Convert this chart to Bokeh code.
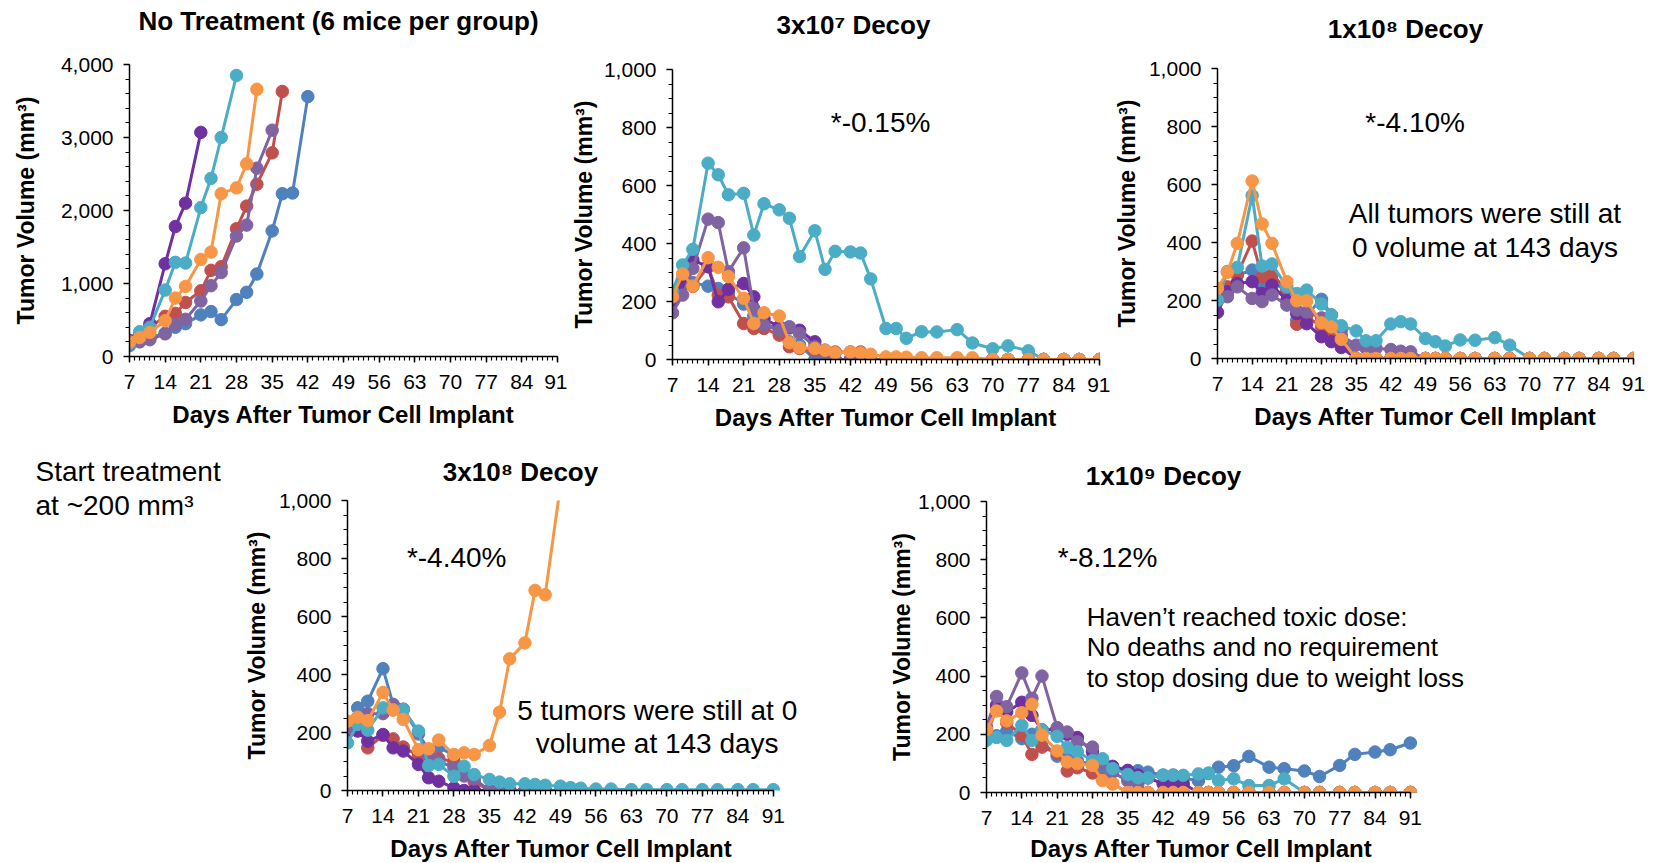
from bokeh.plotting import figure
from bokeh.layouts import row, column
from bokeh.models import FixedTicker, NumeralTickFormatter, Label, Range1d
from bokeh.embed import file_html
from bokeh.resources import INLINE

# ---------------- data ----------------
DAYS = [7, 9, 11, 14, 16, 18, 21, 23, 25, 28, 30, 32, 35, 37, 39, 42, 44, 46,
        49, 51, 53, 56, 59, 63, 66, 70, 73, 77, 80, 84, 87, 91]
X_TICKS = [7, 14, 21, 28, 35, 42, 49, 56, 63, 70, 77, 84, 91]

MOUSE_NAMES = ["blue", "red", "dark_purple", "light_purple", "cyan", "orange"]
MOUSE_COLORS = ["#4F81BD", "#C0504D", "#7030A0", "#8064A2", "#4BACC6", "#F79646"]

# No treatment
nt_blue = [150, 200, 260, 320, 400, 450, 570, 615, 505, 780, 880, 1130, 1720, 2230, 2240, 3560]
nt_red = [210, 260, 400, 550, 590, 740, 900, 1180, 1230, 1750, 2060, 2360, 2790, 3630]
nt_dpurple = [220, 280, 450, 1270, 1780, 2100, 3070]
nt_lpurple = [190, 210, 230, 310, 440, 510, 760, 970, 1150, 1650, 1800, 2580, 3100]
nt_cyan = [180, 340, 400, 910, 1290, 1280, 2040, 2440, 3000, 3850]
nt_orange = [200, 260, 330, 490, 800, 960, 1330, 1430, 2230, 2310, 2640, 3660]

# 3x10^7 decoy
d37_blue = [215, 274, 265, 253, 245, 228, 191, 150, 115, 113, 61, 50, 0, 0, 0, 0, 0, 0,
            0, 0, 0, 0, 0, 0, 0, 0, 0, 0, 0, 0, 0, 0]
d37_red = [216, 255, 252, 320, 222, 216, 124, 107, 107, 84, 44, 38, 32, 26, 26, 26, 26, 0,
           0, 0, 0, 0, 0, 0, 0, 0, 0, 0, 0, 0, 0, 0]
d37_dpurple = [199, 262, 343, 320, 199, 242, 262, 216, 140, 113, 109, 101, 61, 32, 0, 0, 0, 0,
               0, 0, 0, 0, 0, 0, 0, 0, 0, 0, 0, 0, 0, 0]
d37_lpurple = [161, 222, 314, 484, 472, 303, 385, 175, 119, 101, 113, 90, 44, 26, 0, 0, 0, 0,
               0, 0, 0, 0, 0, 0, 0, 0, 0, 0, 0, 0, 0, 0]
d37_cyan = [237, 326, 380, 677, 637, 568, 573, 429, 537, 516, 487, 355, 444, 311, 373, 371, 367, 278,
            107, 107, 73, 96, 95, 103, 57, 37, 47, 30, 0, 0, 0, 0]
d37_orange = [216, 295, 253, 351, 318, 286, 211, 124, 161, 150, 58, 41, 38, 32, 23, 26, 23, 18,
              9, 9, 8, 6, 6, 6, 6, 0, 0, 0, 0, 0, 0, 0]

# 1x10^8 decoy
d18_blue = [220, 240, 287, 305, 247, 268, 230, 132, 150, 204, 150, 98, 0, 0, 0, 0, 0, 0,
            0, 0, 0, 0, 0, 0, 0, 0, 0, 0, 0, 0, 0, 0]
d18_red = [224, 247, 290, 405, 282, 290, 236, 118, 145, 110, 80, 50, 0, 0, 0, 0, 0, 0,
           0, 0, 0, 0, 0, 0, 0, 0, 0, 0, 0, 0, 0, 0]
d18_dpurple = [159, 230, 259, 265, 224, 253, 200, 155, 120, 75, 58, 38, 0, 0, 0, 0, 0, 0,
               0, 0, 0, 0, 0, 0, 0, 0, 0, 0, 0, 0, 0, 0]
d18_lpurple = [201, 213, 247, 207, 196, 219, 184, 167, 160, 140, 110, 80, 46, 35, 35, 31, 25, 23,
               0, 0, 0, 0, 0, 0, 0, 0, 0, 0, 0, 0, 0, 0]
d18_cyan = [201, 300, 314, 562, 319, 326, 247, 224, 236, 188, 150, 113, 95, 61, 61, 119, 127, 119,
            69, 58, 43, 64, 63, 72, 46, 0, 0, 0, 0, 0, 0, 0]
d18_orange = [242, 297, 397, 612, 464, 397, 265, 199, 199, 123, 109, 66, 0, 0, 0, 0, 0, 0,
              0, 0, 0, 0, 0, 0, 0, 0, 0, 0, 0, 0, 0, 0]

# 3x10^8 decoy
d38_blue = [230, 285, 308, 420, 297, 280, 195, 140, 150, 120, 60, 0, 0, 0, 0, 0, 0, 0, 0, 0]
d38_red = [200, 230, 147, 190, 178, 150, 120, 135, 110, 100, 60, 30, 0, 0, 0, 0, 0, 0, 0, 0]
d38_dpurple = [205, 205, 170, 193, 147, 136, 90, 44, 32, 9, 0, 0, 0, 0, 0, 0, 0, 0, 0, 0]
d38_lpurple = [215, 250, 265, 265, 295, 280, 200, 120, 100, 80, 50, 40, 0, 0, 0, 0, 0, 0, 0, 0]
d38_cyan = [164, 228, 208, 285, 279, 279, 205, 86, 90, 49, 84, 55, 38, 29, 23, 23, 21, 18,
            15, 10, 8, 5, 5, 3, 3, 3, 3, 3, 3, 3, 3, 3]
d38_orange = [239, 253, 241, 338, 277, 245, 141, 144, 174, 124, 130, 124, 155, 270, 454, 509, 690, 675, 1050]

# 1x10^9 decoy
d19_blue = [200, 195, 210, 185, 200, 175, 125, 115, 110, 95, 85, 85, 75, 75, 70, 60, 60, 50,
            40, 65, 87, 92, 124, 87, 82, 74, 55, 93, 131, 139, 147, 170]
d19_red = [197, 290, 240, 197, 131, 156, 135, 74, 85, 67, 45, 30, 0, 0, 0, 0, 0, 0,
           0, 0, 0, 0, 0, 0, 0, 0, 0, 0, 0, 0, 0, 0]
d19_dpurple = [220, 300, 277, 310, 265, 215, 217, 200, 189, 140, 110, 90, 76, 60, 50, 30, 30, 30,
               0, 0, 0, 0, 0, 0, 0, 0, 0, 0, 0, 0, 0, 0]
d19_lpurple = [225, 330, 295, 411, 324, 400, 223, 208, 174, 156, 100, 70, 40, 30, 0, 0, 0, 0,
               0, 0, 0, 0, 0, 0, 0, 0, 0, 0, 0, 0, 0, 0]
d19_cyan = [179, 189, 179, 231, 179, 215, 193, 155, 140, 110, 116, 82, 62, 51, 51, 59, 59, 59,
            64, 67, 41, 47, 24, 24, 47, 0, 0, 0, 0, 0, 0, 0]
d19_orange = [216, 280, 246, 274, 303, 197, 143, 105, 99, 93, 41, 30, 0, 0, 0, 0, 0, 0,
              0, 0, 0, 0, 0, 0, 0, 0, 0, 0, 0, 0, 0, 0]

TITLES = ["No Treatment (6 mice per group)", "3x10\u2077 Decoy", "1x10\u2078 Decoy",
          "3x10\u2078 Decoy", "1x10\u2079 Decoy"]
X_LABEL = "Days After Tumor Cell Implant"
Y_LABEL = "Tumor Volume (mm\u00b3)"

FONT = "Liberation Sans"

Y1K = [0, 200, 400, 600, 800, 1000]
Y1K_MINOR = list(range(0, 1001, 50))
Y4K = [0, 1000, 2000, 3000, 4000]
Y4K_MINOR = list(range(0, 4001, 200))


def style_axes(p, yticks, yminor, ymax, label_standoff, show_xlabel):
    p.xgrid.visible = False
    p.ygrid.visible = False
    p.outline_line_color = None
    p.xaxis.ticker = FixedTicker(ticks=X_TICKS, minor_ticks=list(range(7, 92)))
    p.yaxis.ticker = FixedTicker(ticks=yticks, minor_ticks=yminor)
    p.yaxis.formatter = NumeralTickFormatter(format="0,0")
    p.xaxis.bounds = (7, 91)
    p.yaxis.bounds = (0, ymax)
    for ax in (p.xaxis[0], p.yaxis[0]):
        ax.axis_line_color = "black"
        ax.axis_line_width = 1.5
        ax.major_tick_line_color = "black"
        ax.major_tick_line_width = 1.5
        ax.minor_tick_line_color = "black"
        ax.minor_tick_line_width = 1.2
        ax.major_tick_in = 0
        ax.major_tick_out = 6
        ax.minor_tick_in = 0
        ax.minor_tick_out = 4
        ax.major_label_text_font = FONT
        ax.major_label_text_font_size = "21px"
        ax.major_label_text_color = "black"
        ax.axis_label_text_font = FONT
        ax.axis_label_text_font_style = "bold"
        ax.axis_label_text_color = "black"
    p.xaxis.axis_label_text_font_size = "24px"
    p.yaxis.axis_label_text_font_size = "23px"
    if show_xlabel:
        p.xaxis.axis_label = X_LABEL
    p.yaxis.axis_label = Y_LABEL
    p.xaxis.major_label_standoff = 12
    p.xaxis.axis_label_standoff = 9
    p.yaxis.major_label_standoff = 10
    p.yaxis.axis_label_standoff = label_standoff


class Panel:
    """Page geometry of a chart: figure box and plotting frame (page pixels)."""

    def __init__(self, fig_left, fig_top, fig_right, fig_bottom,
                 frame_left, frame_top, frame_bottom, px_per_day, frame_right, ymax):
        self.fl, self.ft, self.fr, self.fb = fig_left, fig_top, fig_right, fig_bottom
        self.xl, self.yt, self.yb = frame_left, frame_top, frame_bottom
        self.xr = frame_right
        self.ppd = px_per_day
        self.ymax = ymax
        self.x_end = 7 + (frame_right - frame_left) / px_per_day

    def data_xy(self, px, py):
        x = 7 + (px - self.xl) / self.ppd
        y = self.ymax - (py - self.yt) / (self.yb - self.yt) * self.ymax
        return x, y


def make_panel(series, g, yticks, yminor, label_standoff, show_xlabel=True):
    p = figure(width=g.fr - g.fl, height=g.fb - g.ft, title=None,
               min_border_left=g.xl - g.fl, min_border_top=g.yt - g.ft,
               min_border_right=g.fr - g.xr, min_border_bottom=g.fb - g.yb,
               x_range=Range1d(7, g.x_end), y_range=Range1d(0, g.ymax),
               output_backend="svg", toolbar_location=None)
    p.frame_align = False
    style_axes(p, yticks, yminor, g.ymax, label_standoff, show_xlabel)
    for vals, color in zip(series, MOUSE_COLORS):
        xs = DAYS[:len(vals)]
        p.line(xs, vals, line_color=color, line_width=3)
        p.scatter(xs, vals, marker="circle", size=12.5, fill_color=color, line_color=color)
    return p


def add_text(p, g, px, py, text, size, align="center"):
    x, y = g.data_xy(px, py)
    p.add_layout(Label(x=x, y=y, text=text, text_font=FONT, text_font_size=size,
                       text_align=align, text_baseline="middle", text_color="black"))


def text_fig(left, top, right, bottom, items):
    w, h = right - left, bottom - top
    t = figure(width=w, height=h, x_range=Range1d(0, w), y_range=Range1d(0, h),
               min_border=0, title=None, x_axis_location=None, y_axis_location=None,
               output_backend="svg", toolbar_location=None)
    t.frame_align = False
    t.xgrid.visible = False
    t.ygrid.visible = False
    t.outline_line_color = None
    for px, py, text, size, bold, align in items:
        t.add_layout(Label(x=px - left, y=h - (py - top), text=text, text_font=FONT,
                           text_font_size=size, text_font_style="bold" if bold else "normal",
                           text_align=align, text_baseline="middle", text_color="black"))
    return t


# page geometry
G1 = Panel(0, 48, 567, 440, 129, 64, 356, 428 / 84, 557, 4000)
G2 = Panel(567, 53, 1110, 440, 668, 69, 359, 431 / 84, 1099, 1000)
G3 = Panel(1110, 52, 1658, 440, 1210, 68, 358, 423 / 84, 1633, 1000)
G4 = Panel(240, 488, 885, 833, 343, 500, 790, 429 / 84, 881, 1000)
G5 = Panel(885, 490, 1658, 834, 981, 501, 792, 427 / 84, 1654, 1000)

p1 = make_panel([nt_blue, nt_red, nt_dpurple, nt_lpurple, nt_cyan, nt_orange],
                G1, Y4K, Y4K_MINOR, 19)
T1 = text_fig(0, 0, 567, 48, [(338, 20, TITLES[0], "26px", True, "center")])

p2 = make_panel([d37_blue, d37_red, d37_dpurple, d37_lpurple, d37_cyan, d37_orange],
                G2, Y1K, Y1K_MINOR, 4)
add_text(p2, G2, 878, 122, "*-0.15%", "28px")
T2 = text_fig(567, 0, 1110, 53, [(853, 24.5, TITLES[1], "26px", True, "center")])

p3 = make_panel([d18_blue, d18_red, d18_dpurple, d18_lpurple, d18_cyan, d18_orange],
                G3, Y1K, Y1K_MINOR, 6)
add_text(p3, G3, 1411, 122, "*-4.10%", "28px")
add_text(p3, G3, 1482, 213, "All tumors were still at", "28px")
add_text(p3, G3, 1482, 247, "0 volume at 143 days", "28px")
T3 = text_fig(1110, 0, 1658, 52, [(1405, 28.5, TITLES[2], "26px", True, "center")])

p4 = make_panel([d38_blue, d38_red, d38_dpurple, d38_lpurple, d38_cyan, d38_orange],
                G4, Y1K, Y1K_MINOR, 6, show_xlabel=False)
add_text(p4, G4, 453, 557, "*-4.40%", "28px")
add_text(p4, G4, 655, 710, "5 tumors were still at 0", "28px")
add_text(p4, G4, 655, 743, "volume at 143 days", "28px")
T4 = text_fig(240, 440, 885, 488, [(520, 471.5, TITLES[3], "26px", True, "center")])
B4 = text_fig(240, 833, 885, 863, [(561, 848, X_LABEL, "24px", True, "center")])

p5 = make_panel([d19_blue, d19_red, d19_dpurple, d19_lpurple, d19_cyan, d19_orange],
                G5, Y1K, Y1K_MINOR, 0, show_xlabel=False)
add_text(p5, G5, 1103, 557, "*-8.12%", "28px")
add_text(p5, G5, 1082, 616, "Haven\u2019t reached toxic dose:", "26px", align="left")
add_text(p5, G5, 1082, 646, "No deaths and no requirement", "26px", align="left")
add_text(p5, G5, 1082, 677, "to stop dosing due to weight loss", "26px", align="left")
T5 = text_fig(885, 440, 1658, 490, [(1163, 475, TITLES[4], "26px", True, "center")])
B5 = text_fig(885, 834, 1658, 863, [(1201, 848, X_LABEL, "24px", True, "center")])

T0 = text_fig(0, 440, 240, 863, [(35, 471, "Start treatment", "28px", False, "left"),
                                 (35, 505, "at ~200 mm\u00b3", "28px", False, "left")])

top = row(column(T1, p1, spacing=0), column(T2, p2, spacing=0), column(T3, p3, spacing=0),
          spacing=0)
bottom = row(T0, column(T4, p4, B4, spacing=0), column(T5, p5, B5, spacing=0), spacing=0)
layout = column(top, bottom, spacing=0)

open("out.html", "w").write(file_html(layout, INLINE))
